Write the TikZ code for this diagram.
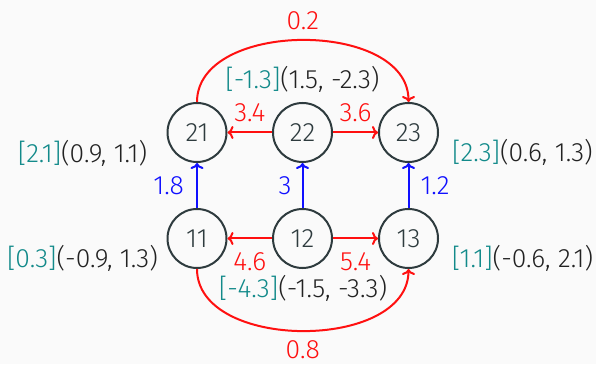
\documentclass[tikz,border=0pt]{standalone}
\usepackage{fontspec}
\setmainfont{Fira Sans}[UprightFont={* Light}]
\usetikzlibrary{arrows.meta}
\definecolor{bg}{HTML}{FAFAFA}
\definecolor{nodeline}{HTML}{2E3B3E}
\definecolor{tealc}{HTML}{128A8A}
\definecolor{txt}{HTML}{222222}
\definecolor{redc}{HTML}{FF1010}
\definecolor{bluec}{HTML}{1010FF}
\begin{document}
\begin{tikzpicture}[x=1pt,y=1pt,
  every node/.style={font=\fontsize{26.5}{30}\selectfont},
  vert/.style={circle,draw=nodeline,line width=2pt,minimum size=59pt,inner sep=0pt,text=nodeline},
  redarr/.style={draw=redc,line width=2pt,-{To[width=13pt,length=6pt]},text=redc},
  bluearr/.style={draw=bluec,line width=2pt,-{To[width=13pt,length=6pt]},text=bluec},
  lab/.style={inner sep=0pt},
  info/.style={text=txt,inner sep=0pt,anchor=base}
]
\fill[bg] (0,0) rectangle (596,364);
\useasboundingbox (0,0) rectangle (596,364);
\node[vert] (n11) at (197,125.5) {11};
\node[vert] (n12) at (302.5,125.5) {12};
\node[vert] (n13) at (408.5,125.5) {13};
\node[vert] (n21) at (197,231.5) {21};
\node[vert] (n22) at (302.5,231.5) {22};
\node[vert] (n23) at (408.5,231.5) {23};
% horizontal
\draw[redarr] (n22) -- node[lab,above=10pt] {3.4} (n21);
\draw[redarr] (n22) -- node[lab,above=10pt] {3.6} (n23);
\draw[redarr] (n12) -- node[lab,below=13pt] {4.6} (n11);
\draw[redarr] (n12) -- node[lab,below=13pt] {5.4} (n13);
% vertical
\draw[bluearr] (n11) -- node[lab,left=12pt] {1.8} (n21);
\draw[bluearr] (n12) -- node[lab,left=10pt] {3} (n22);
\draw[bluearr] (n13) -- node[lab,right=11pt] {1.2} (n23);
% arcs
\draw[redarr] (n21.north) to[out=90,in=90] node[lab,above=9pt,midway] {0.2} (n23.north);
\draw[redarr] (n11.south) to[out=-90,in=-90] node[lab,below=9pt,midway] {0.8} (n13.south);
% info labels
\node[info] (i22) at (302.5,275) {{\color{tealc}[-1.3]}(1.5, -2.3)};
\node[info] (i12) at (303,67) {{\color{tealc}[-4.3]}(-1.5, -3.3)};
\node[info] (i21) at (82.5,201) {{\color{tealc}[2.1]}(0.9, 1.1)};
\node[info] (i11) at (82.5,96) {{\color{tealc}[0.3]}(-0.9, 1.3)};
\node[info] (i23) at (522.5,202) {{\color{tealc}[2.3]}(0.6, 1.3)};
\node[info] (i13) at (522.5,97) {{\color{tealc}[1.1]}(-0.6, 2.1)};
\end{tikzpicture}
\end{document}
